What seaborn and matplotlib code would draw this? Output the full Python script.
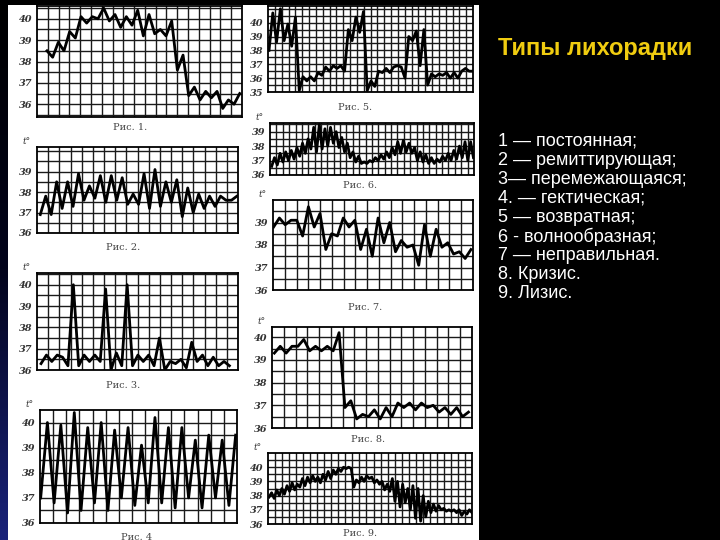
import numpy as np
import matplotlib
matplotlib.use('Agg')
import matplotlib.pyplot as plt
from matplotlib.colors import LinearSegmentedColormap
from matplotlib.patches import Rectangle
import seaborn as sns

# temperature curves (deg C, morning/evening)
fever_1 = [38.5, 38.2, 38.9, 38.5, 39.4, 39.1, 40.1, 39.8, 40.1, 40.0, 40.5, 39.9,
           40.2, 39.6, 40.1, 39.7, 40.4, 39.2, 40.2, 39.3, 39.5, 39.2, 39.9, 37.6,
           38.3, 36.4, 36.8, 36.2, 36.6, 36.3, 36.6, 35.8, 36.2, 36.0, 36.5]
fever_2 = [36.9, 37.8, 36.9, 38.5, 37.2, 38.5, 37.3, 38.9, 37.6, 38.3, 37.7, 38.8,
           37.5, 38.8, 37.6, 38.7, 37.4, 37.9, 37.4, 38.9, 37.2, 39.1, 37.3, 38.5,
           37.5, 38.6, 36.8, 38.2, 37.0, 37.9, 37.2, 37.8, 37.3, 37.8, 37.6, 37.6, 37.8]
fever_3 = [36.3, 36.7, 36.4, 36.7, 36.6, 36.2, 40.0, 36.2, 36.7, 36.4, 36.7, 36.4,
           39.8, 36.0, 36.8, 36.2, 40.0, 36.2, 36.7, 36.4, 36.7, 36.2, 37.5, 36.0,
           36.4, 36.3, 36.5, 36.1, 37.3, 36.4, 36.7, 36.2, 36.6, 36.2, 36.4, 36.2]
fever_4 = [37.0, 40.0, 36.8, 39.9, 36.4, 40.4, 36.5, 39.8, 36.8, 40.0, 36.5, 39.7,
           37.0, 39.8, 36.7, 39.1, 36.8, 40.2, 36.8, 39.8, 36.6, 39.8, 37.0, 39.3,
           36.6, 39.5, 37.0, 39.3, 36.7, 39.5]
fever_5 = [38.0, 40.7, 38.6, 41.0, 38.7, 39.9, 38.3, 40.4, 35.1, 36.1, 35.8, 36.1,
           35.8, 36.4, 36.2, 36.8, 36.5, 36.9, 36.7, 36.9, 36.5, 39.5, 38.7, 40.4,
           39.3, 40.8, 35.1, 35.8, 35.4, 36.5, 36.4, 36.7, 36.4, 36.8, 36.9, 36.8,
           36.0, 39.0, 38.7, 39.4, 36.9, 39.5, 35.5, 36.3, 36.1, 36.3, 36.2, 36.4,
           36.0, 36.4, 36.0, 36.5, 36.7, 36.5, 36.5]
fever_6 = [36.6, 37.2, 36.7, 37.5, 36.9, 37.6, 37.0, 37.7, 37.1, 37.9, 37.3, 38.2,
           37.5, 38.5, 37.8, 39.3, 37.6, 39.5, 37.8, 39.2, 38.0, 39.3, 38.2, 39.0,
           37.9, 38.6, 37.6, 38.2, 37.2, 37.6, 36.9, 37.3, 36.8, 36.9, 36.8, 37.0,
           36.9, 37.2, 37.0, 37.4, 37.1, 37.6, 37.2, 37.9, 37.4, 38.3, 37.5, 38.4,
           37.6, 38.2, 37.5, 37.9, 37.0, 37.6, 36.9, 37.4, 36.8, 37.2, 36.8, 37.1,
           36.9, 37.3, 37.0, 37.5, 37.0, 37.7, 37.1, 38.0, 37.2, 38.3, 37.0, 38.3, 37.2]
fever_7 = [38.8, 39.2, 38.9, 39.1, 39.1, 38.4, 39.7, 38.8, 39.4, 37.8, 38.5, 38.4,
           39.2, 38.8, 39.1, 37.8, 38.7, 37.5, 39.2, 38.1, 39.0, 37.7, 38.2, 37.9,
           38.0, 37.1, 38.9, 37.5, 38.7, 37.9, 38.1, 37.6, 37.7, 37.4, 37.8]
fever_8 = [39.3, 39.6, 39.3, 39.6, 39.6, 39.9, 39.4, 39.6, 39.4, 39.6, 39.4, 40.2,
           36.9, 37.2, 36.4, 36.6, 36.5, 36.8, 36.4, 36.9, 36.5, 37.1, 36.9, 37.1,
           36.8, 37.1, 36.9, 37.0, 36.7, 36.9, 36.6, 36.9, 36.5, 36.7]
fever_9 = [37.9, 38.2, 37.8, 38.4, 38.0, 38.5, 38.1, 38.7, 38.3, 38.9, 38.4, 38.8,
           38.6, 39.2, 38.7, 39.3, 38.9, 39.4, 39.0, 39.3, 38.9, 39.5, 39.1, 39.7,
           39.2, 39.8, 39.5, 39.9, 39.7, 40.0, 39.9, 40.0, 39.9, 38.6, 39.1, 38.9,
           39.3, 39.0, 39.4, 39.2, 39.3, 38.9, 39.1, 38.8, 39.0, 38.4, 38.8, 38.3,
           39.2, 37.6, 39.0, 37.2, 38.8, 37.5, 38.5, 37.0, 38.7, 36.4, 38.5, 36.2,
           38.0, 36.5, 37.6, 36.8, 37.4, 36.9, 37.3, 37.0, 37.1, 36.9, 37.0, 36.9,
           37.0, 36.8, 37.0, 36.6, 36.9, 36.7, 37.0, 36.8]

# labelled degrees on each chart's scale
ticks_1 = [36, 37, 38, 39, 40]
ticks_2 = [36, 37, 38, 39]
ticks_3 = [36, 37, 38, 39, 40]
ticks_4 = [36, 37, 38, 39, 40]
ticks_5 = [35, 36, 37, 38, 39, 40]
ticks_6 = [36, 37, 38, 39]
ticks_7 = [36, 37, 38, 39]
ticks_8 = [36, 37, 38, 39, 40]
ticks_9 = [36, 37, 38, 39, 40]

captions = ['Рис. 1.', 'Рис. 2.', 'Рис. 3.', 'Рис. 4', 'Рис. 5.',
            'Рис. 6.', 'Рис. 7.', 'Рис. 8.', 'Рис. 9.']
title = 'Типы лихорадки'
fever_types = ['1 — постоянная;', '2 — ремиттирующая;', '3— перемежающаяся;',
               '4. — гектическая;', '5 — возвратная;', '6 - волнообразная;',
               '7 — неправильная.', '8. Кризис.', '9. Лизис.']

W, H = 720, 540
fig = plt.figure(figsize=(W / 100, H / 100), dpi=100, facecolor='black')

# dark blue strip on the left edge of the slide
strip = fig.add_axes([0, 0, 8 / W, 1])
grad = LinearSegmentedColormap.from_list('strip', ['#000000', '#03041c', '#1a237a'])
strip.imshow(np.linspace(0, 1, 200).reshape(-1, 1), aspect='auto', cmap=grad)
strip.axis('off')

# white scan area
fig.add_artist(Rectangle((8 / W, 0), 471 / W, 535 / H, transform=fig.transFigure,
                         facecolor='white', edgecolor='none', zorder=0))


def px_axes(left, top, right, bottom):
    return fig.add_axes([left / W, 1 - bottom / H, (right - left) / W, (bottom - top) / H])


def fever_chart(box, temps, ticks, ylim, xlim, ncols, caption, cap_xy, t_mark=True):
    ax = px_axes(*box)
    ax.set_facecolor('white')
    x = np.arange(len(temps))
    sns.lineplot(x=x, y=temps, ax=ax, color='black', lw=2.0, zorder=3)
    ax.set_xlim(*xlim)
    ax.set_ylim(*ylim)
    ax.set_xticks(np.linspace(xlim[0], xlim[1], ncols + 1)[1:-1])
    ax.set_xticklabels([])
    halves = np.arange(np.ceil(ylim[0] * 2) / 2, ylim[1], 0.5)
    ax.set_yticks([v for v in halves if v not in ticks], minor=True)
    ax.set_yticks(ticks)
    ax.set_yticklabels([str(t) for t in ticks], family='DejaVu Serif', style='italic',
                       weight='bold', size=7, color='#333333')
    ax.grid(True, which='both', color='#1a1a1a', lw=1.0, zorder=1)
    ax.tick_params(which='both', length=0, pad=3)
    ax.set_xlabel('')
    ax.set_ylabel('')
    for sp in ax.spines.values():
        sp.set_color('black')
        sp.set_linewidth(1.3)
    if t_mark:
        ax.text(-0.03, 1.01, 't°', transform=ax.transAxes, ha='right', va='bottom',
                fontsize=6.5, family='DejaVu Serif', style='italic', color='#333333')
    fig.text(cap_xy[0] / W, 1 - cap_xy[1] / H, caption, ha='center', va='center',
             fontsize=7, family='DejaVu Serif', color='#444444')
    return ax


fever_chart((37, 6, 242, 117), fever_1, ticks_1, (35.4, 40.6), (-1.76, 34.4), 19,
            captions[0], (130, 127), t_mark=False)
fever_chart((37, 147, 238, 233), fever_2, ticks_2, (36, 40.2), (-0.6, 36.2), 18,
            captions[1], (123, 247))
fever_chart((37, 273, 238, 370), fever_3, ticks_3, (36, 40.55), (-0.75, 36.6), 18,
            captions[2], (123, 385))
fever_chart((40, 410, 237, 523), fever_4, ticks_4, (36, 40.5), (-0.1, 29.2), 15,
            captions[3], (137, 537))
fever_chart((268, 6, 473, 92), fever_5, ticks_5, (35, 41.2), (-0.27, 54.0), 30,
            captions[4], (355, 107), t_mark=False)
fever_chart((270, 123, 474, 175), fever_6, ticks_6, (36, 39.6), (-0.6, 72.2), 32,
            captions[5], (360, 185))
fever_chart((273, 200, 473, 290), fever_7, ticks_7, (36, 40.0), (-0.1, 34.35), 17,
            captions[6], (365, 307))
fever_chart((272, 327, 472, 428), fever_8, ticks_8, (36, 40.45), (-0.4, 33.6), 17,
            captions[7], (368, 440))
fever_chart((268, 453, 472, 524), fever_9, ticks_9, (36, 41.0), (-0.4, 79.0), 29,
            captions[8], (360, 533))

# black band along the top of the slide
fig.add_artist(Rectangle((0, 1 - 5 / H), 1, 5 / H, transform=fig.transFigure,
                         facecolor='black', edgecolor='none', zorder=10))

text_font = ['Liberation Sans', 'DejaVu Sans']
fig.text(498 / W, 1 - 48 / H, title, ha='left', va='center', fontsize=17,
         fontweight='bold', color='#f0cc10', family=text_font)
for i, line in enumerate(fever_types):
    fig.text(498 / W, 1 - (141 + 19.1 * i) / H, line, ha='left', va='center',
             fontsize=13, color='white', family=text_font)

fig.savefig('out.png', dpi=100, facecolor='black')
